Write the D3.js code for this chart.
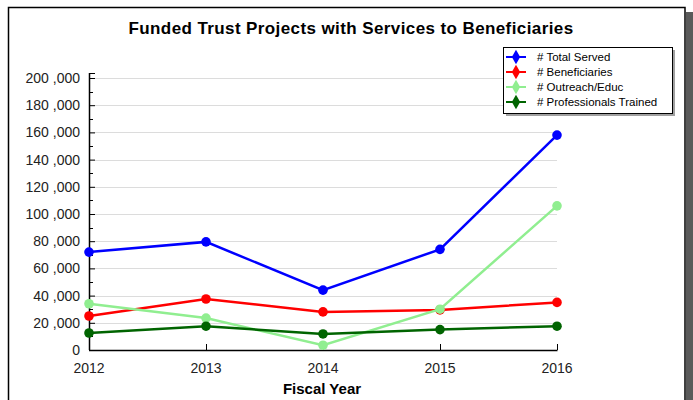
<!DOCTYPE html>
<html>
<head>
<meta charset="UTF-8">
<title></title>
<script src="https://cdn.jsdelivr.net/npm/d3@7"></script>
<style>
  body { margin: 0; background: #fff; }
  svg { display: block; font-family: "Liberation Sans", Arial, sans-serif; }
</style>
</head>
<body>
<svg id="chart" width="693" height="400"></svg>
<script>
var years = [2012, 2013, 2014, 2015, 2016];
var totalServed = [72000, 79500, 44000, 74000, 158000];
var beneficiaries = [25000, 37500, 28000, 29500, 35000];
var outreach = [34000, 23500, 3500, 30000, 106000];
var professionals = [12500, 17500, 11800, 15000, 17500];

var seriesNames = ["# Total Served", "# Beneficiaries", "# Outreach/Educ", "# Professionals Trained"];
var seriesColors = ["#0000ff", "#ff0000", "#90ee90", "#006400"];
var yTicks = [0, 20000, 40000, 60000, 80000, 100000, 120000, 140000, 160000, 180000, 200000];

var series = [totalServed, beneficiaries, outreach, professionals].map(function(v, i) {
  return { name: seriesNames[i], color: seriesColors[i], values: v };
});

var svg = d3.select("#chart");
var plotLeft = 89, plotRight = 557, plotTop = 78, plotBottom = 350;

// frame with shadow
svg.append("rect").attr("x", 686).attr("y", 12).attr("width", 7).attr("height", 400).attr("fill", "#5a5a5a");
svg.append("rect").attr("x", 8.5).attr("y", 7.5).attr("width", 676.5).attr("height", 400)
  .attr("fill", "#fff").attr("stroke", "#000").attr("stroke-width", 1.5);

svg.append("text").attr("x", 351).attr("y", 34).attr("text-anchor", "middle")
  .attr("font-size", 17).attr("font-weight", "bold").attr("letter-spacing", 0.4)
  .text("Funded Trust Projects with Services to Beneficiaries");

var x = d3.scalePoint().domain(years).range([plotLeft, plotRight]);
var y = d3.scaleLinear().domain([0, 200000]).range([plotBottom, plotTop]);

// gridlines
svg.append("g").selectAll("line").data(yTicks.slice(1)).enter().append("line")
  .attr("x1", plotLeft).attr("x2", plotRight)
  .attr("y1", function(d) { return Math.round(y(d)) + 0.5; })
  .attr("y2", function(d) { return Math.round(y(d)) + 0.5; })
  .attr("stroke", "#dcdcdc").attr("stroke-width", 1);

// y axis
var yAxis = d3.axisRight(y).tickValues(yTicks).tickSize(6).tickFormat("");
var ya = svg.append("g").attr("transform", "translate(" + plotLeft + ",0)").call(yAxis);
ya.select(".domain").remove();
ya.selectAll("line").attr("stroke", "#000");
var minor = d3.range(10000, 200000, 20000);
svg.append("g").selectAll("line").data(minor).enter().append("line")
  .attr("x1", plotLeft).attr("x2", plotLeft + 4)
  .attr("y1", function(d) { return Math.round(y(d)) + 0.5; })
  .attr("y2", function(d) { return Math.round(y(d)) + 0.5; })
  .attr("stroke", "#000");
svg.append("line").attr("x1", plotLeft + 0.5).attr("x2", plotLeft + 0.5).attr("y1", 73).attr("y2", plotBottom)
  .attr("stroke", "#000").attr("stroke-width", 1.5);
svg.append("line").attr("x1", plotLeft).attr("x2", plotLeft + 6).attr("y1", 73.5).attr("y2", 73.5).attr("stroke", "#000");
svg.append("g").selectAll("text").data(yTicks).enter().append("text")
  .attr("x", 80).attr("y", function(d) { return y(d) + 5; })
  .attr("text-anchor", "end").attr("font-size", 14).attr("fill", "#222")
  .text(function(d) { return d3.format(",")(d).replace(",", " ,"); });

// x axis
var xAxis = d3.axisTop(x).tickSize(6).tickFormat("");
var xa = svg.append("g").attr("transform", "translate(0," + plotBottom + ")").call(xAxis);
xa.select(".domain").remove();
xa.selectAll("line").attr("stroke", "#000");
svg.append("line").attr("x1", plotLeft).attr("x2", plotRight + 0.5).attr("y1", plotBottom + 0.5).attr("y2", plotBottom + 0.5)
  .attr("stroke", "#000").attr("stroke-width", 1.5);
svg.append("g").selectAll("text").data(years).enter().append("text")
  .attr("x", function(d) { return x(d); }).attr("y", 373)
  .attr("text-anchor", "middle").attr("font-size", 14).attr("fill", "#222").text(function(d) { return d; });
svg.append("text").attr("x", 322).attr("y", 394).attr("text-anchor", "middle")
  .attr("font-size", 15).attr("font-weight", "bold").text("Fiscal Year");

// lines
var line = d3.line().x(function(d, i) { return x(years[i]); }).y(function(d) { return y(d); });
var g = svg.append("g");
series.forEach(function(s) {
  g.append("path").attr("d", line(s.values)).attr("fill", "none")
    .attr("stroke", s.color).attr("stroke-width", 2.5);
  g.selectAll(null).data(s.values).enter().append("circle")
    .attr("cx", function(d, i) { return x(years[i]); }).attr("cy", function(d) { return y(d); })
    .attr("r", 4.8).attr("fill", s.color);
});

// legend
var lg = svg.append("g");
lg.append("rect").attr("x", 506).attr("y", 50).attr("width", 169).attr("height", 66).attr("fill", "#a0a0a0");
lg.append("rect").attr("x", 503.5).attr("y", 47.5).attr("width", 169).attr("height", 66)
  .attr("fill", "#fff").attr("stroke", "#000").attr("stroke-width", 1);
series.forEach(function(s, i) {
  var yy = 57 + i * 15;
  lg.append("line").attr("x1", 506).attr("x2", 526).attr("y1", yy).attr("y2", yy)
    .attr("stroke", s.color).attr("stroke-width", 2);
  lg.append("path").attr("d", d3.symbol(d3.symbolDiamond, 60)())
    .attr("transform", "translate(516," + yy + ")").attr("fill", s.color);
  lg.append("text").attr("x", 537).attr("y", yy + 4).attr("font-size", 11.5).attr("fill", "#000").text(s.name);
});
</script>
</body>
</html>
